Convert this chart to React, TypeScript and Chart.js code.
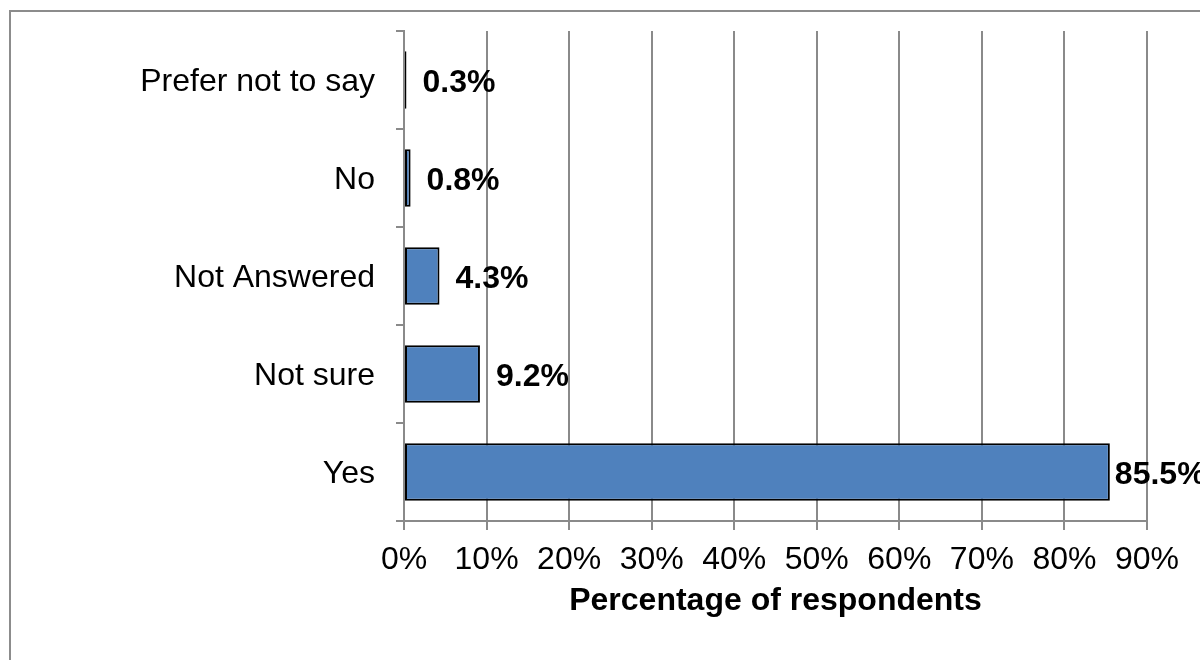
import React, { useEffect, useRef } from "react";
import { Chart, registerables } from "chart.js";

Chart.register(...registerables);

const categories = ["Prefer not to say", "No", "Not Answered", "Not sure", "Yes"];
const values = [0.3, 0.8, 4.3, 9.2, 85.5];
const xTicks = [0, 10, 20, 30, 40, 50, 60, 70, 80, 90];
const axisTitle = "Percentage of respondents";

const FONT = "'Liberation Sans', Arial, sans-serif";
const GRID = "#8a8a8a";

const dataLabels = {
  id: "dataLabels",
  afterDatasetsDraw(chart: any) {
    const ctx = chart.ctx;
    const meta = chart.getDatasetMeta(0);
    ctx.save();
    ctx.font = `bold 32px ${FONT}`;
    ctx.fillStyle = "#000";
    ctx.textAlign = "left";
    ctx.textBaseline = "middle";
    meta.data.forEach((bar: any, i: number) => {
      const text = values[i].toFixed(1) + "%";
      const w = ctx.measureText(text).width;
      let x = bar.x + 16;
      if (x + w > chart.width) x = bar.x + 5;
      ctx.fillText(text, x, bar.y + 3);
    });
    ctx.restore();
  },
};

export default function App() {
  const ref = useRef<HTMLCanvasElement>(null);
  useEffect(() => {
    if (!ref.current) return;
    const chart = new Chart(ref.current, {
      type: "bar",
      data: {
        labels: categories,
        datasets: [
          {
            data: values,
            backgroundColor: "#4F81BD",
            borderColor: "#000000",
            borderWidth: 2,
            borderSkipped: false,
            categoryPercentage: 1,
            barPercentage: 0.585,
          },
        ],
      },
      options: {
        indexAxis: "y",
        responsive: false,
        animation: false,
        devicePixelRatio: 1,
        layout: { padding: { top: 31, right: 53, left: 0, bottom: 0 } },
        plugins: {
          legend: { display: false },
          tooltip: { enabled: false },
        },
        scales: {
          x: {
            min: 0,
            max: 90,
            afterBuildTicks: (scale: any) => {
              scale.ticks = xTicks.map((v) => ({ value: v }));
            },
            afterFit: (scale: any) => {
              scale.height = 139;
            },
            ticks: {
              color: "#000",
              font: { family: FONT, size: 32 },
              padding: 11,
              maxRotation: 0,
              autoSkip: false,
              callback: (v: any) => v + "%",
            },
            grid: {
              color: GRID,
              lineWidth: 2,
              tickLength: 9,
              drawTicks: true,
            },
            border: { color: GRID, width: 2 },
            title: {
              display: true,
              text: axisTitle,
              color: "#000",
              font: { family: FONT, size: 32, weight: "bold" },
              padding: { top: 0, bottom: 40 },
            },
          },
          y: {
            afterFit: (scale: any) => {
              scale.width = 404;
              scale.paddingTop = 0;
              scale.paddingBottom = 0;
            },
            ticks: {
              color: "#000",
              font: { family: FONT, size: 32 },
              padding: 21,
              labelOffset: 2,
              autoSkip: false,
            },
            grid: {
              offset: true,
              drawOnChartArea: false,
              drawTicks: true,
              tickLength: 8,
              color: GRID,
              lineWidth: 2,
            },
            border: { color: GRID, width: 2 },
          },
        },
      },
      plugins: [dataLabels],
    } as any);
    return () => chart.destroy();
  }, []);

  return (
    <div
      style={{
        position: "fixed",
        left: 0,
        top: 0,
        width: 1200,
        height: 660,
        overflow: "hidden",
        background: "#fff",
      }}
    >
      <div
        style={{
          position: "absolute",
          left: 9,
          top: 10,
          width: 1400,
          height: 900,
          borderLeft: "2px solid #8c8c8c",
          borderTop: "2px solid #8c8c8c",
        }}
      />
      <canvas
        ref={ref}
        width={1200}
        height={660}
        style={{ position: "absolute", left: 0, top: 0, width: 1200, height: 660 }}
      />
    </div>
  );
}
